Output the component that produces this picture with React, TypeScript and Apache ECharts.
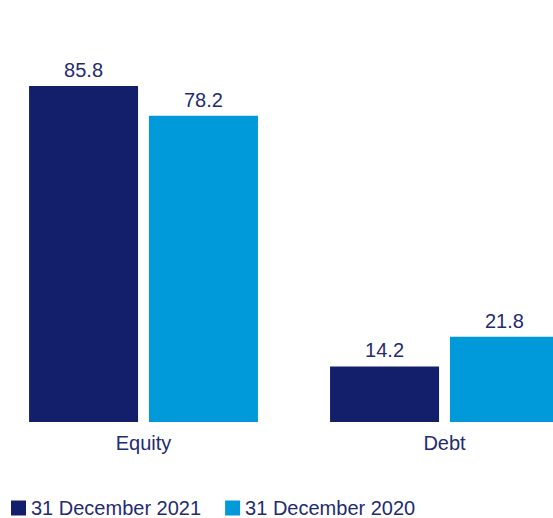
import React, { useEffect, useRef } from "react";
import * as echarts from "echarts";

const categories = ["Equity", "Debt"];
const seriesNames = ["31 December 2021", "31 December 2020"];
const values2021 = [85.8, 14.2];
const values2020 = [78.2, 21.8];

const TEXT = "#1f2c72";
const NAVY = "#131f6b";
const BLUE = "#009ada";

export default function App() {
  const ref = useRef<HTMLDivElement>(null);
  useEffect(() => {
    if (!ref.current) return;
    const chart = echarts.init(ref.current, undefined, { renderer: "svg" });
    const font = "'Liberation Sans', Arial, sans-serif";
    const label = {
      show: true,
      position: "top",
      distance: 6,
      color: TEXT,
      fontSize: 20,
      fontFamily: font,
      formatter: (p: any) => p.value.toFixed(1),
    };
    chart.setOption({
      animation: false,
      textStyle: { fontFamily: font },
      legend: {
        left: 18,
        top: 498,
        padding: 0,
        itemWidth: 15,
        itemHeight: 15,
        itemGap: 24,
        icon: "rect",
        data: seriesNames,
        textStyle: { color: TEXT, fontSize: 20, lineHeight: 20, fontFamily: font },
      },
      grid: { left: 0, width: 602, top: 30.4, bottom: 96, containLabel: false },
      xAxis: {
        type: "category",
        data: categories,
        axisLine: { show: false },
        axisTick: { show: false },
        axisLabel: { color: TEXT, fontSize: 20, margin: 11, fontFamily: font },
      },
      yAxis: {
        type: "value",
        min: 0,
        max: 100,
        show: false,
        splitLine: { show: false },
      },
      series: [
        {
          name: seriesNames[0],
          type: "bar",
          data: values2021,
          barWidth: 109,
          barGap: "10%",
          itemStyle: { color: NAVY },
          label,
        },
        {
          name: seriesNames[1],
          type: "bar",
          data: values2020,
          barWidth: 109,
          barGap: "10%",
          itemStyle: { color: BLUE },
          label,
        },
      ],
    });
    return () => chart.dispose();
  }, []);
  return (
    <div style={{ width: 553, height: 518, position: "absolute", left: 0, top: 0, overflow: "hidden" }}>
      <div ref={ref} style={{ width: 602, height: 518, position: "absolute", left: -7, top: 0 }} />
    </div>
  );
}
